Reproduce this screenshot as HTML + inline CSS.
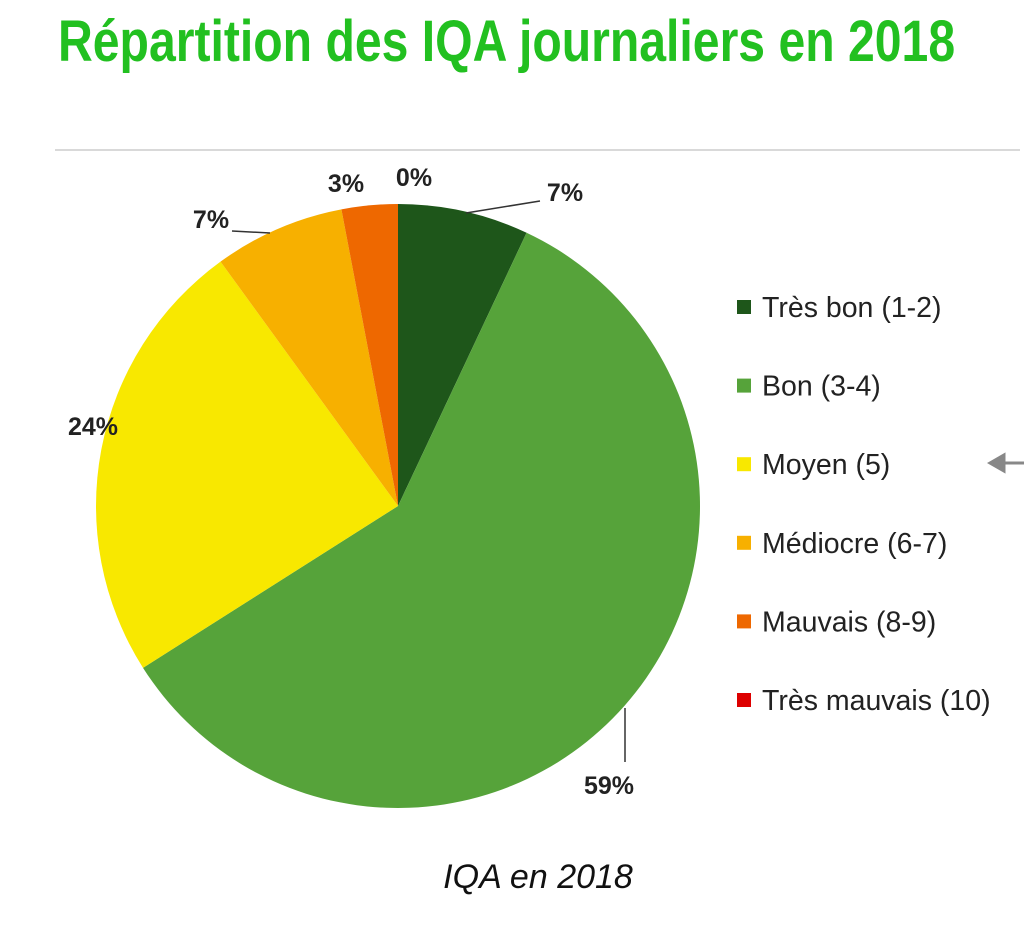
<!DOCTYPE html>
<html><head><meta charset="utf-8"><style>
body{margin:0;width:1024px;height:942px;background:#fff;overflow:hidden;position:relative;font-family:"Liberation Sans",sans-serif}
#title{position:absolute;left:58px;top:8px;font-weight:bold;font-size:58px;color:#22c020;white-space:nowrap;transform-origin:0 0;transform:scaleX(0.83);letter-spacing:0px}
#rule{position:absolute;left:55px;top:149px;width:965px;height:2px;background:#d9d9d9}
</style></head><body>
<div id="title">Répartition des IQA journaliers en 2018</div>
<div id="rule"></div>
<svg id="chart" width="1024" height="942" style="position:absolute;left:0;top:0"></svg>
<script>
const categories=["Très bon (1-2)","Bon (3-4)","Moyen (5)","Médiocre (6-7)","Mauvais (8-9)","Très mauvais (10)"];
const values=[7,59,24,7,3,0];
const labels=["7%","59%","24%","7%","3%","0%"];
const colors=["#1e561a","#56a33a","#f8e800","#f7b000","#ee6800","#dd0000"];
const ns="http://www.w3.org/2000/svg";
const svg=document.getElementById('chart');
const cx=398,cy=506,r=302;
const total=values.reduce((a,b)=>a+b,0);
function pt(a,rr){return [cx+rr*Math.sin(a),cy-rr*Math.cos(a)];}
function mk(t,attrs){const e=document.createElementNS(ns,t);for(const k in attrs)e.setAttribute(k,attrs[k]);svg.appendChild(e);return e;}
let cum=0;
const labelPos=[[565,192],[609,785],[93,426],[211,219],[346,183],[414,177]];
values.forEach((v,i)=>{
  const a0=cum/total*2*Math.PI;cum+=v;const a1=cum/total*2*Math.PI;
  if(v>0){
    const p0=pt(a0,r),p1=pt(a1,r);const large=(a1-a0)>Math.PI?1:0;
    const p=mk('path',{d:`M${cx},${cy}L${p0[0]},${p0[1]}A${r},${r} 0 ${large} 1 ${p1[0]},${p1[1]}Z`,fill:colors[i]});
    
    
  }
  const t=mk('text',{x:labelPos[i][0],y:labelPos[i][1]+9,'text-anchor':'middle','font-size':'25','font-weight':'bold',fill:'#222','font-family':'Liberation Sans, sans-serif'});
  t.textContent=labels[i];
  
  
});
[[466,213,540,201],[232,231,270,233],[625,708,625,762]].forEach((l,i)=>{
  const e=mk('polyline',{points:`${l[0]},${l[1]} ${l[2]},${l[3]}`,stroke:'#333','stroke-width':'1.5',fill:'none'});
  
  
});
categories.forEach((c,i)=>{
  const y=308+i*78.6;
  const s=mk('rect',{x:737,y:y-8,width:14,height:14,fill:colors[i]});
  
  
  const t=mk('text',{x:762,y:y+9,'font-size':'28.5',fill:'#222','font-family':'Liberation Sans, sans-serif'});
  t.textContent=c;
  
  
});
const ar=mk('path',{d:'M990,463 L1004,455 L1004,471 Z M1002,463 L1024,463',stroke:'#888','stroke-width':'3',fill:'#888'});


const cap=mk('text',{x:538,y:888,'text-anchor':'middle','font-size':'34','font-style':'italic',fill:'#111','font-family':'Liberation Sans, sans-serif'});
cap.textContent='IQA en 2018';


</script>
</body></html>
